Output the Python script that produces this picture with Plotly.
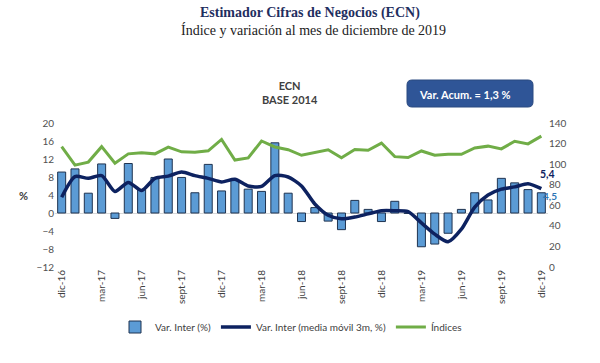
import plotly.graph_objects as go

months = ["dic-16", "ene-17", "feb-17", "mar-17", "abr-17", "may-17", "jun-17", "jul-17", "ago-17",
          "sept-17", "oct-17", "nov-17", "dic-17", "ene-18", "feb-18", "mar-18", "abr-18", "may-18",
          "jun-18", "jul-18", "ago-18", "sept-18", "oct-18", "nov-18", "dic-18", "ene-19", "feb-19",
          "mar-19", "abr-19", "may-19", "jun-19", "jul-19", "ago-19", "sept-19", "oct-19", "nov-19", "dic-19"]

var_inter = [9.1, 9.8, 4.4, 10.9, -1.2, 11.0, 5.2, 7.9, 12.0,
             7.9, 4.5, 10.8, 4.9, 7.3, 5.3, 4.8, 15.6, 4.4,
             -1.9, 1.2, -1.8, -3.7, 2.8, 0.8, -1.9, 2.6, -0.1,
             -7.5, -6.9, -4.5, 0.8, 4.5, 2.9, 7.7, 6.7, 5.2, 4.5]

media_movil = [3.5, 8.1, 7.7, 8.3, 4.8, 6.8, 5.0, 7.7, 8.2,
               9.1, 8.3, 7.7, 6.9, 7.5, 6.0, 5.9, 8.3, 8.0,
               6.0, 2.0, -0.5, -1.3, -0.9, -0.2, 0.5, 0.5, 0.3,
               -2.2, -4.7, -6.4, -3.6, 1.3, 4.0, 5.3, 5.8, 6.5, 5.4]

indices = [117, 99, 102, 117, 101, 110, 111, 110, 116.5,
           112, 111.5, 113, 124, 104, 106, 122.5, 116.7, 114,
           108.6, 111, 114, 106.2, 114.2, 113.5, 120.5, 107.3, 106.4,
           112.8, 108.6, 109.6, 109.5, 115.7, 117.5, 114.8, 122.3, 119.7, 127.2]

tick_months = months[::3]

# pixel helpers for layout (plot area)
L, R, T, B = 55, 52, 123, 96
W, H = 600, 363
pw, ph = W - L - R, H - T - B


def px(x):
    return (x - L) / pw


def py(y):
    return (H - B - y) / ph


fig = go.Figure()
fig.add_trace(go.Bar(
    x=months, y=var_inter, name="Var. Inter (%)",
    marker=dict(color="#5B9BD5", line=dict(color="#1F3350", width=1)),
    yaxis="y",
))
fig.add_trace(go.Scatter(
    x=months, y=media_movil, name="Var. Inter (media móvil 3m, %)",
    mode="lines", line=dict(color="#0D2260", width=3.5, shape="spline", smoothing=0.7),
    yaxis="y",
))
fig.add_trace(go.Scatter(
    x=months, y=indices, name="Índices",
    mode="lines", line=dict(color="#70AD47", width=3),
    yaxis="y2",
))

tickfont = dict(family="Lato", size=10, color="#505050")

fig.update_layout(
    width=W, height=H,
    margin=dict(l=L, r=R, t=T, b=B, autoexpand=False),
    paper_bgcolor="white", plot_bgcolor="white",
    bargap=0.4,
    showlegend=True,
    legend=dict(orientation="h", x=291 / W, xanchor="center", xref="container",
                y=(H - 327) / H, yanchor="middle", yref="container",
                font=dict(family="Lato", size=10, color="#404040"),
                itemwidth=30, tracegroupgap=0),
    xaxis=dict(type="category", range=[-0.5, 36.5], tickmode="array", tickvals=tick_months,
               ticktext=tick_months, tickangle=-90, tickfont=dict(family="Lato", size=10, color="#404040"),
               showgrid=False, showline=False, ticks="", automargin=False),
    yaxis=dict(range=[-12, 20], dtick=4, tickfont=tickfont, showgrid=False, zeroline=True,
               zerolinecolor="#D9D9D9", zerolinewidth=1, ticks="", showline=False, automargin=False),
    yaxis2=dict(range=[0, 140], dtick=20, tickfont=tickfont, overlaying="y", side="right",
                showgrid=False, zeroline=False, ticks="", showline=False, automargin=False),
)

# rounded box
x0, x1, y0, y1 = px(407), px(533), py(107), py(80)
rx, ry = 5 / pw, 5 / ph
path = (f"M {x0+rx},{y0} L {x1-rx},{y0} Q {x1},{y0} {x1},{y0+ry} L {x1},{y1-ry} Q {x1},{y1} {x1-rx},{y1} "
        f"L {x0+rx},{y1} Q {x0},{y1} {x0},{y1-ry} L {x0},{y0+ry} Q {x0},{y0} {x0+rx},{y0} Z")
fig.add_shape(type="path", path=path, xref="paper", yref="paper",
              fillcolor="#2F5597", line=dict(color="#2A4A80", width=1))

ann = [
    dict(text="<b>Estimador Cifras de Negocios (ECN)</b>", x=px(310), y=py(13),
         font=dict(family="Liberation Serif", size=14, color="#1F2F5F")),
    dict(text="Índice y variación al mes de diciembre de 2019", x=px(313), y=py(30),
         font=dict(family="Liberation Serif", size=14, color="#222222")),
    dict(text="<b>ECN<br>BASE 2014</b>", x=px(290), y=py(92.5), font=dict(family="Lato", size=11, color="#404040")),
    dict(text="<b>Var. Acum. = 1,3 %</b>", x=px(465), y=py(94),
         font=dict(family="Lato", size=11, color="white")),
    dict(text="<b>%</b>", x=px(23), y=py(195), font=dict(family="Lato", size=11, color="#404040")),
    dict(text="<b>5,4</b>", x=px(547), y=py(174), font=dict(family="Lato", size=10.5, color="#0D2260")),
    dict(text="<b>4,5</b>", x=px(550), y=py(196), font=dict(family="Lato", size=10, color="#2E75B6")),
]
for a in ann:
    fig.add_annotation(xref="paper", yref="paper", showarrow=False, xanchor="center", yanchor="middle", **a)

fig.write_html("out.html", post_script="document.body.style.margin='0';",
               config={"displayModeBar": False})
